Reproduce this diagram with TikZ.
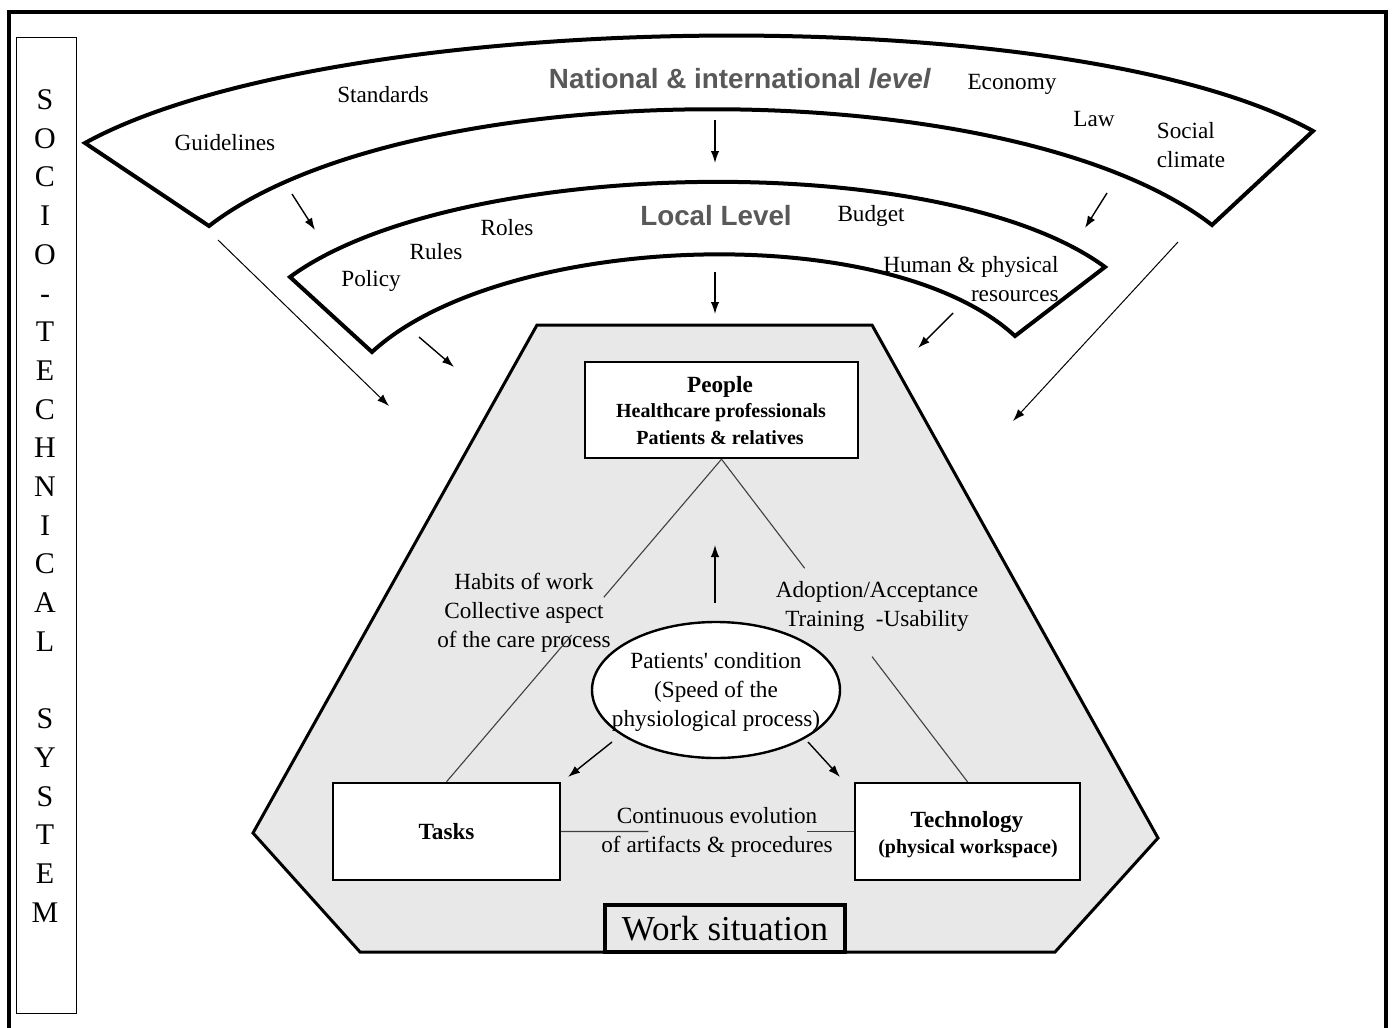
\documentclass[tikz,border=0pt]{standalone}
\usepackage{fontspec}
\setmainfont{Liberation Serif}
\newfontfamily\headfont{Liberation Sans}
\usetikzlibrary{arrows.meta,shapes.geometric,calc}
\begin{document}
\begin{tikzpicture}[x=0.5pt,y=-0.5pt,
  band/.style={draw, line width=2pt, fill=white, line join=miter},
  arr/.style={-{Latex[length=6pt,width=4.2pt]}, line width=0.7pt},
  longarr/.style={-{Latex[length=6pt,width=4.2pt]}, line width=0.5pt},
  thinln/.style={line width=0.55pt, draw=black!75},
  txt/.style={font=\fontsize{11.6}{14.5}\selectfont, inner sep=0pt, align=center},
  boldtxt/.style={font=\bfseries\fontsize{11.6}{14}\selectfont, inner sep=0pt},
  smallbold/.style={font=\bfseries\fontsize{10}{12}\selectfont, inner sep=0pt},
  boxn/.style={draw, line width=1.2pt, fill=white, inner sep=0pt, align=center},
  head/.style={font=\headfont\bfseries\fontsize{13.9}{16}\selectfont, text=black!65, inner sep=0pt},
]
\useasboundingbox (0,0) rectangle (1393,1028);
\fill[white] (0,0) rectangle (1393,1028);
% outer frame
\draw[line width=1.8pt] (9,1028) -- (9,12) -- (1386,12) -- (1386,1028);
% side box
\node[draw, line width=0.7pt, minimum width=30pt, minimum height=488pt, anchor=north west, inner sep=0] (side) at (16,37) {};
\node[font=\fontsize{15}{19.35}\selectfont, align=center, inner sep=0] (letters) at (45,506)
  {S\\O\\C\\I\\O\\-\\T\\E\\C\\H\\N\\I\\C\\A\\L\\~\\S\\Y\\S\\T\\E\\M};
% bands
\draw[band] (85,143) .. controls (330,8) and (1068,-4) .. (1313,131) -- (1212,225)
  .. controls (1012,70) and (409,71) .. (209,226) -- cycle;
\draw[band] (290,277) .. controls (453,157) and (942,147) .. (1105,267) -- (1015,336)
  .. controls (886,217) and (501,233) .. (372,352) -- cycle;
% work situation polygon
\draw[line width=1.5pt, fill=black!9, line join=miter] (537,325) -- (872,325) -- (1158,838) -- (1055,952) -- (360,952) -- (253,833) -- cycle;
% national band texts
\node[head] (natl) at (740,79) {National \& international \textit{level}};
\node[txt] (guid) at (225,143) {Guidelines};
\node[txt] (stand) at (383,95) {Standards};
\node[txt] (econ) at (1012,84) {Economy};
\node[txt] (law) at (1094,119) {Law};
\node[txt, align=left] (social) at (1191,145) {Social\\climate};
% local band texts
\node[head] (locl) at (716,216) {Local Level};
\node[txt] (roles) at (507,228) {Roles};
\node[txt] (rules) at (436,252) {Rules};
\node[txt] (policy) at (371,281) {Policy};
\node[txt] (budget) at (871,216) {Budget};
\node[txt, align=right, anchor=east] (human) at (1059,279) {Human \& physical\\resources};
% arrow coordinates
\coordinate (a1s) at (715,120); \coordinate (a1e) at (715,163);
\coordinate (a2s) at (292,194); \coordinate (a2e) at (315,230);
\coordinate (a3s) at (1107,193); \coordinate (a3e) at (1085,228);
\coordinate (a4s) at (715,272); \coordinate (a4e) at (715,314);
\coordinate (a5s) at (419,337); \coordinate (a5e) at (454,367);
\coordinate (a6s) at (953,313); \coordinate (a6e) at (918,348);
\coordinate (a7s) at (218,240); \coordinate (a7e) at (389,406);
\coordinate (a8s) at (1178,242); \coordinate (a8e) at (1013,421);
\draw[arr] (a1s) -- (a1e);
\draw[arr] (a2s) -- (a2e);
\draw[arr] (a3s) -- (a3e);
\draw[arr] (a4s) -- (a4e);
\draw[arr] (a5s) -- (a5e);
\draw[arr] (a6s) -- (a6e);
\draw[longarr] (a7s) -- (a7e);
\draw[longarr] (a8s) -- (a8e);
% boxes
\node[boxn, minimum width=136.5pt, minimum height=48pt] (people) at (721.5,410) {};
\node[boldtxt] (pp1) at (720,387) {People};
\node[smallbold] (pp2) at (721,413) {Healthcare professionals};
\node[smallbold] (pp3) at (720,438) {Patients \& relatives};
\node[boxn, minimum width=113.5pt, minimum height=48.5pt, font=\bfseries\fontsize{11.6}{14}\selectfont] (tasks) at (446.5,831.5) {Tasks};
\node[boxn, minimum width=112.5pt, minimum height=48.5pt] (tech) at (967.5,831.5) {};
\node[boldtxt] (tc1) at (967,822) {Technology};
\node[smallbold] (tc2) at (968,849) {(physical workspace)};
\node[draw, line width=2pt, fill=black!9, minimum width=120pt, minimum height=23.5pt, inner sep=0,
  font=\fontsize{17.5}{20}\selectfont] (work) at (725,928.5) {Work situation};
% ellipse
\node[ellipse, draw, line width=1.2pt, fill=white, minimum width=124pt, minimum height=68pt, inner sep=0] (ell) at (716,690) {};
\node[txt] (elltxt) at (716,692) {Patients\textquotesingle\ condition\\(Speed of the\\physiological process)};
% labels
\node[txt] (habits) at (524,613) {Habits of work\\Collective aspect\\of the care process};
\node[txt] (adopt) at (877,606) {Adoption/Acceptance\\Training\ \ -Usability};
\node[txt] (cont) at (717,832) {Continuous evolution\\of artifacts \& procedures};
% connecting lines
\draw[thinln] (people.south) -- ($(people.south)!0.428!(tasks.north)$);
\draw[thinln] ($(people.south)!0.545!(tasks.north)$) -- (tasks.north);
\draw[thinln] (people.south) -- ($(people.south)!0.338!(tech.north)$);
\draw[thinln] ($(people.south)!0.612!(tech.north)$) -- (tech.north);
\draw[thinln] (tasks.east) -- ($(tasks.east)!0.298!(tech.west)$);
\draw[thinln] ($(tasks.east)!0.841!(tech.west)$) -- (tech.west);
% arrows around ellipse
\coordinate (u1) at (715,603); \coordinate (u2) at (715,545);
\coordinate (l1) at (612,742); \coordinate (l2) at (568,777);
\coordinate (r1) at (808,742); \coordinate (r2) at (840,777);
\draw[arr] (u1) -- (u2);
\draw[arr] (l1) -- (l2);
\draw[arr] (r1) -- (r2);
\end{tikzpicture}
\end{document}
